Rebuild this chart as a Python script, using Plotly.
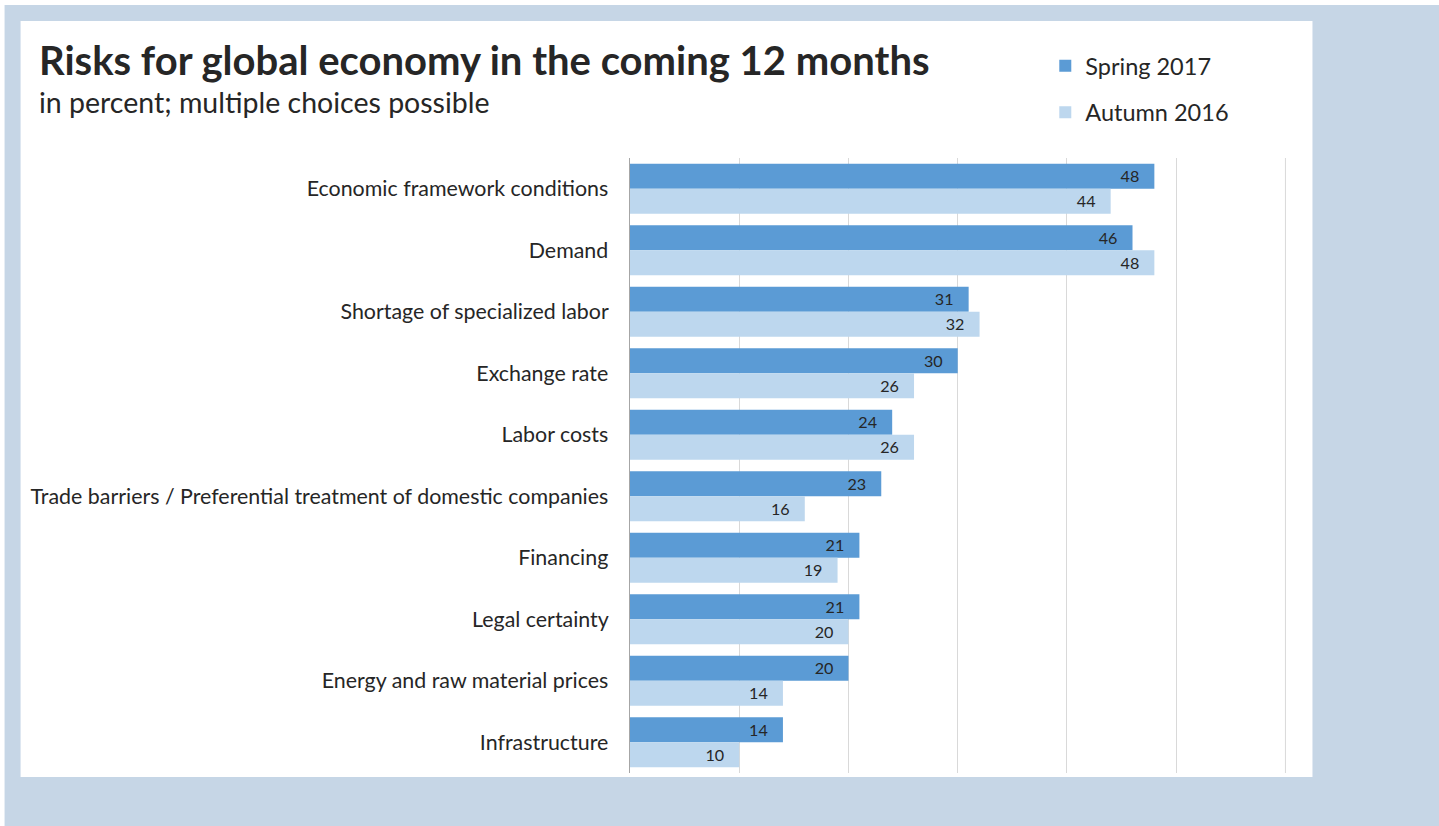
import plotly.graph_objects as go

categories = [
    "Economic framework conditions",
    "Demand",
    "Shortage of specialized labor",
    "Exchange rate",
    "Labor costs",
    "Trade barriers / Preferential treatment of domestic companies",
    "Financing",
    "Legal certainty",
    "Energy and raw material prices",
    "Infrastructure",
]
spring_2017 = [48, 46, 31, 30, 24, 23, 21, 21, 20, 14]
autumn_2016 = [44, 48, 32, 26, 26, 16, 19, 20, 14, 10]
series_names = ["Spring 2017", "Autumn 2016"]

W, H = 1439, 826
XMAX = 60.05
L, T, B = 630, 158, 773  # plot area in pixels
R = L + 655 * XMAX / 60

def px(x):
    return (x - L) / (R - L)

def py(y):
    return (B - y) / (B - T)

FONT = "Lato"
TXT = "#262626"

fig = go.Figure()
fig.add_trace(go.Bar(
    y=categories, x=spring_2017, name=series_names[0], orientation="h",
    marker=dict(color="#5b9bd5", line=dict(width=0)),
    text=spring_2017, texttemplate="%{x}\u2003", textposition="inside",
    insidetextanchor="end", textangle=0,
    insidetextfont=dict(color=TXT, size=19.5, family=FONT),
    legendgroup="a",
))
fig.add_trace(go.Bar(
    y=categories, x=autumn_2016, name=series_names[1], orientation="h",
    marker=dict(color="#bdd7ee", line=dict(width=0)),
    text=autumn_2016, texttemplate="%{x}\u2003", textposition="inside",
    insidetextanchor="end", textangle=0,
    insidetextfont=dict(color=TXT, size=19.5, family=FONT),
    legendgroup="b",
))

shapes = [
    dict(type="rect", xref="paper", yref="paper", x0=px(5), x1=px(1445),
         y0=py(832), y1=py(5), fillcolor="#c6d6e6", line=dict(width=0), layer="below"),
    dict(type="rect", xref="paper", yref="paper", x0=px(21), x1=px(1312),
         y0=py(777), y1=py(21), fillcolor="white", line=dict(width=0), layer="below"),
    # last gridline at the end of the value axis
    dict(type="line", xref="x", yref="paper", x0=60, x1=60, y0=0, y1=1,
         line=dict(color="#d9d9d9", width=1), layer="below"),
]

fig.update_layout(
    width=W, height=H,
    margin=dict(l=L, r=W - R, t=T, b=H - B, pad=0),
    paper_bgcolor="white", plot_bgcolor="rgba(0,0,0,0)",
    barmode="group", bargap=0.186, bargroupgap=0,
    font=dict(family=FONT, color=TXT),
    shapes=shapes,
    showlegend=True,
    legend=dict(
        x=px(1045), y=py(44), xanchor="left", yanchor="top",
        traceorder="grouped", tracegroupgap=13,
        font=dict(size=23.5, family=FONT, color=TXT),
        bgcolor="rgba(0,0,0,0)", itemwidth=30,
    ),
    xaxis=dict(range=[0, XMAX], dtick=10, showgrid=True, gridcolor="#d9d9d9",
               gridwidth=1, showticklabels=False, zeroline=False, ticks="",
               fixedrange=True),
    yaxis=dict(autorange="reversed", showline=True, linecolor="#a6a6a6",
               linewidth=1, ticks="", ticksuffix="   ",
               tickfont=dict(size=21.4, family=FONT, color=TXT)),
    annotations=[
        dict(text="<b>Risks for global economy in the coming 12 months</b>",
             xref="paper", yref="paper", x=px(37), y=py(86), xanchor="left",
             yanchor="bottom", showarrow=False,
             font=dict(size=40, family=FONT, color=TXT)),
        dict(text="in percent; multiple choices possible",
             xref="paper", yref="paper", x=px(37), y=py(121), xanchor="left",
             yanchor="bottom", showarrow=False,
             font=dict(size=28.5, family=FONT, color=TXT)),
    ],
)

fig.write_html("out.html", config={"displayModeBar": False},
               post_script="document.body.style.margin='0';document.body.style.overflow='hidden';")
